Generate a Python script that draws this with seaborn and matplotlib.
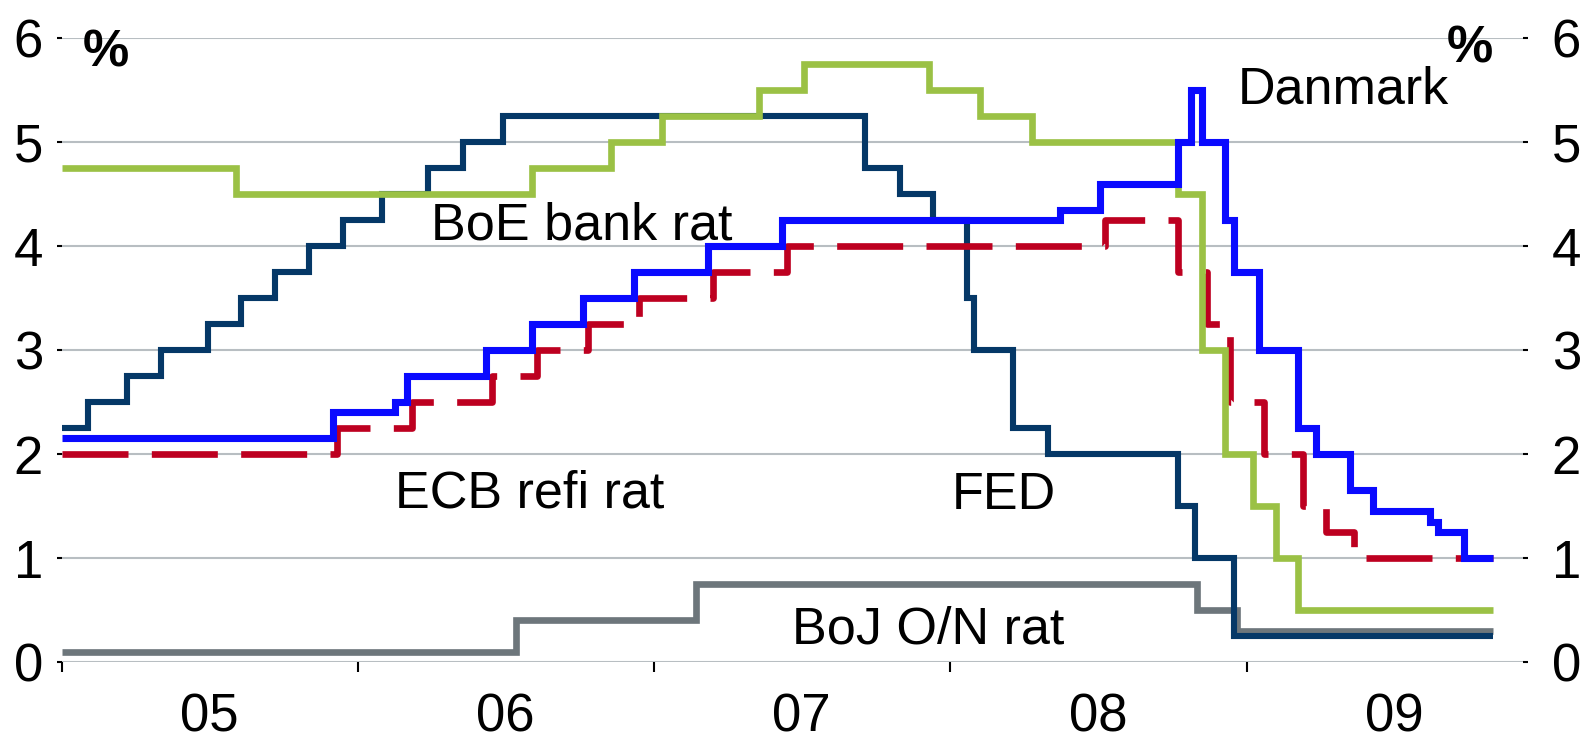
import pandas as pd
import matplotlib
matplotlib.use("Agg")
import matplotlib.pyplot as plt
import matplotlib.dates as mdates
import matplotlib.ticker as mticker
import seaborn as sns

# policy rates, date of each change and the new level (%)
end_date = "2009-10-31"

fed_dates = ["2005-01-01", "2005-02-02", "2005-03-22", "2005-05-03", "2005-06-30",
             "2005-08-09", "2005-09-20", "2005-11-01", "2005-12-13", "2006-01-31",
             "2006-03-28", "2006-05-10", "2006-06-29", "2007-09-18", "2007-10-31",
             "2007-12-11", "2008-01-22", "2008-01-30", "2008-03-18", "2008-04-30",
             "2008-10-08", "2008-10-29", "2008-12-16"]
fed_rates = [2.25, 2.50, 2.75, 3.00, 3.25, 3.50, 3.75, 4.00, 4.25, 4.50,
             4.75, 5.00, 5.25, 4.75, 4.50, 4.25, 3.50, 3.00, 2.25, 2.00,
             1.50, 1.00, 0.25]

boe_dates = ["2005-01-01", "2005-08-04", "2006-08-03", "2006-11-09", "2007-01-11",
             "2007-05-10", "2007-07-05", "2007-12-06", "2008-02-07", "2008-04-10",
             "2008-10-08", "2008-11-06", "2008-12-04", "2009-01-08", "2009-02-05",
             "2009-03-05"]
boe_rates = [4.75, 4.50, 4.75, 5.00, 5.25, 5.50, 5.75, 5.50, 5.25, 5.00,
             4.50, 3.00, 2.00, 1.50, 1.00, 0.50]

ecb_dates = ["2005-01-01", "2005-12-06", "2006-03-08", "2006-06-15", "2006-08-09",
             "2006-10-11", "2006-12-13", "2007-03-14", "2007-06-13", "2008-07-09",
             "2008-10-08", "2008-11-12", "2008-12-10", "2009-01-21", "2009-03-11",
             "2009-04-08", "2009-05-13"]
ecb_rates = [2.00, 2.25, 2.50, 2.75, 3.00, 3.25, 3.50, 3.75, 4.00, 4.25,
             3.75, 3.25, 2.50, 2.00, 1.50, 1.25, 1.00]

dk_dates = ["2005-01-01", "2005-12-01", "2006-02-15", "2006-03-02", "2006-06-08",
            "2006-08-03", "2006-10-05", "2006-12-07", "2007-03-08", "2007-06-07",
            "2008-05-15", "2008-07-03", "2008-10-08", "2008-10-24", "2008-11-06",
            "2008-12-04", "2008-12-16", "2009-01-15", "2009-03-05", "2009-03-27",
            "2009-05-08", "2009-06-05", "2009-08-14", "2009-08-24", "2009-09-25"]
dk_rates = [2.15, 2.40, 2.50, 2.75, 3.00, 3.25, 3.50, 3.75, 4.00, 4.25,
            4.35, 4.60, 5.00, 5.50, 5.00, 4.25, 3.75, 3.00, 2.25, 2.00,
            1.65, 1.45, 1.35, 1.25, 1.00]

boj_dates = ["2005-01-01", "2006-07-14", "2007-02-21", "2008-10-31", "2008-12-19"]
boj_rates = [0.10, 0.40, 0.75, 0.50, 0.30]


def step_frame(dates, rates):
    # hold the last level until the end of the sample
    return pd.DataFrame({"date": pd.to_datetime(dates + [end_date]),
                         "rate": rates + [rates[-1]]})


sns.set_style("white")
plt.rcParams["font.family"] = ["Liberation Sans", "DejaVu Sans"]
plt.rcParams["text.color"] = "black"
plt.rcParams["xtick.color"] = "black"
plt.rcParams["ytick.color"] = "black"

fig = plt.figure(figsize=(15.9, 7.4), dpi=100)
ax = fig.add_axes([0.039, 0.1054, 0.919, 0.8432])

common = dict(ax=ax, x="date", y="rate", drawstyle="steps-post", estimator=None,
              sort=False, solid_joinstyle="miter", solid_capstyle="butt")
sns.lineplot(data=step_frame(boj_dates, boj_rates), color="#6d767b", lw=4.8, **common)
sns.lineplot(data=step_frame(fed_dates, fed_rates), color="#053867", lw=4.4, **common)
sns.lineplot(data=step_frame(ecb_dates, ecb_rates), color="#bd0020", lw=4.8,
             linestyle=(0, (9.9, 3.5)), **common)
sns.lineplot(data=step_frame(boe_dates, boe_rates), color="#9bc145", lw=4.8, **common)
sns.lineplot(data=step_frame(dk_dates, dk_rates), color="#0a0aff", lw=5.1, **common)

ax.set_xlim(mdates.date2num(pd.Timestamp("2005-01-01")),
            mdates.date2num(pd.Timestamp("2009-12-07")))
ax.set_ylim(0, 6)
ax.set_yticks(range(0, 7))
ax.set_xlabel("")
ax.set_ylabel("")
for s in ax.spines.values():
    s.set_visible(False)

ax.yaxis.grid(True, color="#b8bec2", lw=1.5)
ax.xaxis.grid(False)
ax.set_axisbelow(True)

# year ticks at the start of each year, labels in the middle
ax.xaxis.set_major_locator(mdates.YearLocator())
ax.xaxis.set_major_formatter(mticker.NullFormatter())
ax.xaxis.set_minor_locator(mdates.MonthLocator(bymonth=7))
ax.xaxis.set_minor_formatter(mdates.DateFormatter("%y"))
ax.tick_params(axis="x", which="major", direction="out", length=7, width=1.5,
               color="black", bottom=True)
ax.tick_params(axis="x", which="minor", length=0, pad=22, labelsize=38,
               labelcolor="black")
ax.tick_params(axis="y", direction="out", length=3.6, width=1.5, color="black",
               left=True, pad=10, labelsize=38, labelcolor="black")

ax2 = ax.twinx()
ax2.set_ylim(0, 6)
ax2.set_yticks(range(0, 7))
for s in ax2.spines.values():
    s.set_visible(False)
ax2.grid(False)
ax2.tick_params(axis="y", direction="out", length=3.6, width=1.5, color="black",
                right=True, pad=17, labelsize=38, labelcolor="black")

labels = [("2006-10-03", 4.06, "BoE bank rat"),
          ("2006-08-01", 1.49, "ECB refi rat"),
          ("2008-03-07", 1.47, "FED"),
          ("2009-04-29", 5.37, "Danmark"),
          ("2007-12-04", 0.18, "BoJ O/N rat")]
for d, y, txt in labels:
    ax.text(mdates.date2num(pd.Timestamp(d)), y, txt, ha="center", va="baseline",
            fontsize=37.5, color="black")

ax.text(mdates.date2num(pd.Timestamp("2005-02-24")), 5.73, "%", ha="center",
        va="baseline", fontsize=37.5, fontweight="bold", color="black")
ax.text(mdates.date2num(pd.Timestamp("2009-10-02")), 5.76, "%", ha="center",
        va="baseline", fontsize=37.5, fontweight="bold", color="black")

fig.savefig("out.png", dpi=100)
